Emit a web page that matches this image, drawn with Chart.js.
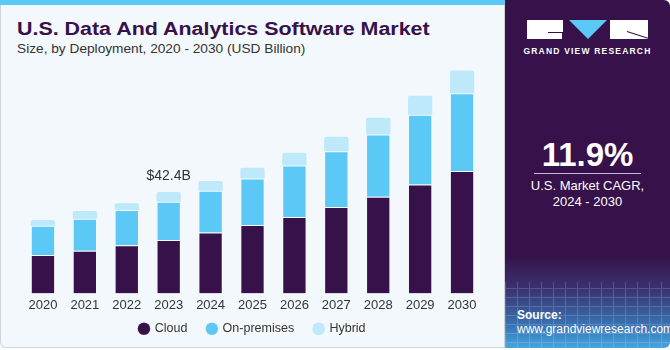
<!DOCTYPE html>
<html>
<head>
<meta charset="utf-8">
<script src="https://cdn.jsdelivr.net/npm/chart.js@4.4.0/dist/chart.umd.min.js"></script>
<style>
  html, body { margin: 0; padding: 0; background: #fff; }
  body { width: 670px; height: 350px; position: relative; overflow: hidden; font-family: "Liberation Sans", Arial, sans-serif; }
  #left { position: absolute; left: 0; top: 0; width: 505px; height: 348px; background: #f3f8fc; border: 1px solid #cfd3d6; border-top: none; border-radius: 0 0 0 6px; box-sizing: border-box; }
  #topbar { position: absolute; left: 0; top: 0; width: 505px; height: 5px; background: #5bc8f5; }
  #title { position: absolute; left: 17px; top: 19px; font-size: 18px; font-weight: bold; color: #371149; white-space: nowrap; transform: scaleX(1.19); transform-origin: left top; }
  #subtitle { position: absolute; left: 17px; top: 41px; font-size: 13.7px; color: #333; white-space: nowrap; }
  #chartBox { position: absolute; left: 0; top: 0; width: 500px; height: 350px; }
  #right { position: absolute; left: 505px; top: 0; width: 165px; height: 348px; border-radius: 0 6px 6px 0;
    background: linear-gradient(to bottom, #371149 0px, #371149 255px, #3a3572 290px, #3b78b8 328px, #46a6e0 348px); overflow: hidden; }
  #grid { position: absolute; left: 0; top: 282px; width: 165px; height: 70px; opacity: 0.16;
    background-image: repeating-linear-gradient(90deg, #fff 0 1px, transparent 1px 12px), repeating-linear-gradient(0deg, #fff 0 1px, transparent 1px 9px); }
  .logo { position: absolute; background: #fff; }
  .cut { position: absolute; background: #371149; }
  #tri { position: absolute; left: 64px; top: 20px; width: 0; height: 0; border-left: 19px solid transparent; border-right: 19px solid transparent; border-top: 19px solid #5bc8f5; }
  #brand { position: absolute; left: 0; width: 165px; top: 46px; text-align: center; color: #fff; font-size: 8.5px; font-weight: bold; letter-spacing: 1.2px; }
  #cagr { position: absolute; left: 0; width: 165px; top: 136px; text-align: center; color: #fff; font-size: 33px; font-weight: bold; }
  #rule { position: absolute; left: 29px; top: 173px; width: 107px; height: 1px; background: #c9b9d6; }
  #cagrText { position: absolute; left: 0; width: 165px; top: 178px; text-align: center; color: #fff; font-size: 13px; line-height: 16px; }
  #src { position: absolute; left: 12px; top: 308px; color: #fff; font-size: 12px; line-height: 14px; }
</style>
</head>
<body>
<div id="left"></div>
<div id="topbar"></div>
<div id="title">U.S. Data And Analytics Software Market</div>
<div id="subtitle">Size, by Deployment, 2020 - 2030 (USD Billion)</div>
<div id="chartBox"><canvas id="chart" width="500" height="350"></canvas></div>
<div id="right">
  <div class="logo" style="left:22px; top:20px; width:36px; height:19px;"></div>
  <div class="cut" style="left:43px; top:32px; width:20px; height:1px;"></div>
  <div class="cut" style="left:57px; top:32px; width:1px; height:7px;"></div>
  <div id="tri"></div>
  <div class="logo" style="left:105px; top:20px; width:38px; height:19px;"></div>
  <div class="cut" style="left:122px; top:31px; width:22px; height:1px; transform: rotate(18deg); transform-origin: left center;"></div>
  <div id="brand">GRAND VIEW RESEARCH</div>
  <div id="cagr">11.9%</div>
  <div id="rule"></div>
  <div id="cagrText">U.S. Market CAGR,<br>2024 - 2030</div>
  <div id="grid"></div>
  <div id="src"><b>Source:</b><br>www.grandviewresearch.com</div>
</div>
<script>
const years = ['2020', '2021', '2022', '2023', '2024', '2025', '2026', '2027', '2028', '2029', '2030'];
const cloud = [16.0, 17.8, 20.1, 22.3, 25.4, 28.6, 31.9, 36.1, 40.4, 45.5, 51.1];
const onPremises = [12.3, 13.4, 14.7, 16.0, 17.5, 19.4, 21.5, 23.3, 26.0, 29.1, 32.5];
const hybrid = [2.4, 3.2, 2.9, 4.1, 4.1, 4.5, 5.4, 6.0, 7.0, 8.0, 9.5];
const labelIndex = 3; // 2023 gets the value label

const legendCut = 14.5; // la leyenda ocupa menos alto, sin mover sus items

// etiqueta "$42.4B" encima de la barra de 2023
const totalLabel = {
  id: 'totalLabel',
  afterLayout(chart) {
    chart.legend.top -= legendCut; // solo el borde de arriba, para no recortar el texto
  },
  afterDatasetsDraw(chart) {
    const ctx = chart.ctx;
    const total = cloud[labelIndex] + onPremises[labelIndex] + hybrid[labelIndex];
    const x = chart.scales.x.getPixelForValue(labelIndex);
    const y = chart.scales.y.getPixelForValue(total);
    ctx.save();
    ctx.fillStyle = '#333';
    ctx.font = '14px "Liberation Sans", Arial, sans-serif';
    ctx.textAlign = 'center';
    ctx.textBaseline = 'bottom';
    ctx.fillText('$' + total.toFixed(1) + 'B', x, y - 9);
    ctx.restore();
  }
};

const ctx = document.getElementById('chart').getContext('2d');
const chart = new Chart(ctx, {
  type: 'bar',
  data: {
    labels: years,
    datasets: [
      { label: 'Cloud', data: cloud, backgroundColor: '#371149', borderColor: 'rgba(255,255,255,0.25)', borderWidth: 1 },
      { label: 'On-premises', data: onPremises, backgroundColor: '#5bc8f5', borderColor: 'rgba(255,255,255,0.25)', borderWidth: 1 },
      { label: 'Hybrid', data: hybrid, backgroundColor: '#bde9fa', borderRadius: { topLeft: 2, topRight: 2 }, borderSkipped: 'bottom' }
    ]
  },
  options: {
    responsive: false,
    animation: false,
    layout: { padding: { left: 22, right: 17, top: 66, bottom: 5 } },
    datasets: { bar: { barPercentage: 0.58, categoryPercentage: 1.0 } },
    scales: {
      x: {
        stacked: true,
        grid: { display: false, drawTicks: false },
        border: { display: false },
        ticks: { color: '#333', padding: 4, font: { size: 13, family: '"Liberation Sans", Arial, sans-serif' } }
      },
      y: {
        stacked: true,
        display: false,
        min: 0,
        max: 95
      }
    },
    plugins: {
      legend: {
        position: 'bottom',
        maxHeight: 42.5 - legendCut,
        labels: {
          usePointStyle: true,
          pointStyle: 'circle',
          boxWidth: 9,
          boxHeight: 9,
          padding: 20,
          color: '#333',
          font: { size: 12.5, family: '"Liberation Sans", Arial, sans-serif' }
        }
      },
      tooltip: { enabled: false }
    }
  },
  plugins: [totalLabel]
});
</script>
</body>
</html>
